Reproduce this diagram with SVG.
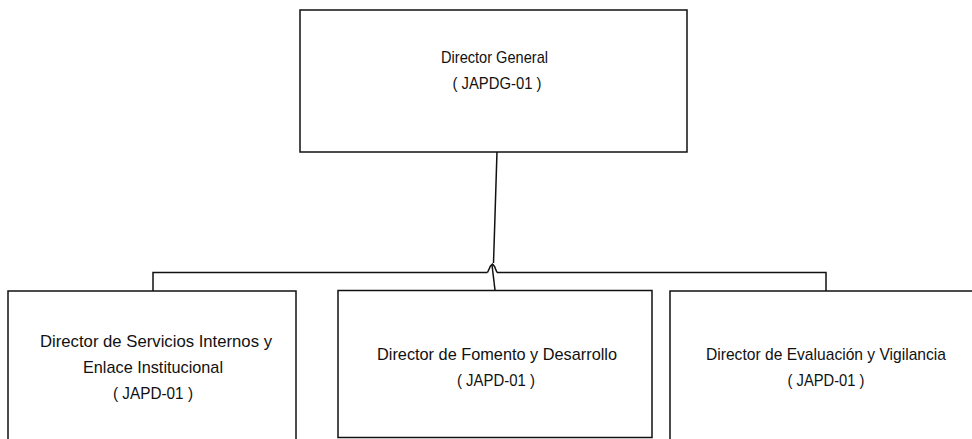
<svg xmlns="http://www.w3.org/2000/svg" width="972" height="439" viewBox="0 0 972 439">
<style>
.box{fill:#fff;stroke:#111;stroke-width:1.5}
.conn{fill:none;stroke:#111;stroke-width:1.5}
text{font-family:"Liberation Sans",Arial,sans-serif;font-size:17px;fill:#111;text-anchor:middle}
</style>
<rect width="972" height="439" fill="#fff"/>
<g id="connectors">
<polyline class="conn" points="153,291 153,272.5 487.5,272.5"/>
<path class="conn" d="M487.5,272.5 L490.5,266 L492.5,264 L494.5,266.5 L497,272.5"/>
<polyline class="conn" points="497,272.5 826,272.5 826,291"/>
<line class="conn" x1="497" y1="152" x2="493.5" y2="263"/>
<line class="conn" x1="492" y1="265" x2="495" y2="290"/>
</g>
<g id="n-director-general">
<rect class="box" x="300" y="10" width="387" height="142"/>
<text x="494.5" y="63" textLength="107" lengthAdjust="spacingAndGlyphs">Director General</text>
<text x="497" y="89" textLength="89" lengthAdjust="spacingAndGlyphs">( JAPDG-01 )</text>
</g>
<g id="n-servicios-internos">
<rect class="box" x="8" y="291" width="288" height="150"/>
<text x="156" y="347" textLength="232" lengthAdjust="spacingAndGlyphs">Director de Servicios Internos y</text>
<text x="153" y="373" textLength="140" lengthAdjust="spacingAndGlyphs">Enlace Institucional</text>
<text x="153" y="399" textLength="80" lengthAdjust="spacingAndGlyphs">( JAPD-01 )</text>
</g>
<g id="n-fomento">
<rect class="box" x="338" y="290.5" width="314" height="147"/>
<text x="497" y="360" textLength="240" lengthAdjust="spacingAndGlyphs">Director de Fomento y Desarrollo</text>
<text x="496" y="386" textLength="78" lengthAdjust="spacingAndGlyphs">( JAPD-01 )</text>
</g>
<g id="n-evaluacion">
<rect class="box" x="670" y="291" width="304" height="150"/>
<text x="826" y="360" textLength="240" lengthAdjust="spacingAndGlyphs">Director de Evaluación y Vigilancia</text>
<text x="826" y="386" textLength="77" lengthAdjust="spacingAndGlyphs">( JAPD-01 )</text>
</g>
</svg>
